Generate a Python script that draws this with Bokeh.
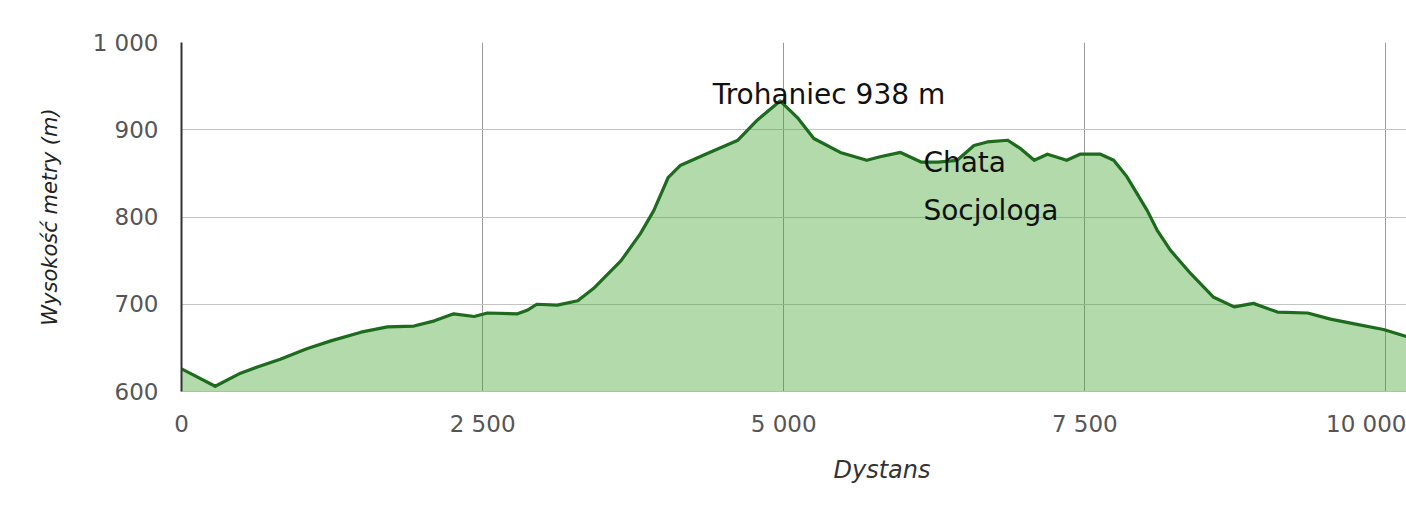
from bokeh.plotting import figure
from bokeh.models import ColumnDataSource, Range1d, Label, FixedTicker, CustomJSTickFormatter, Title
from bokeh.embed import file_html
from bokeh.resources import INLINE

# --- data (distance in m, elevation in m) ---
distance = [0, 280, 490, 630, 820, 1040, 1240, 1490, 1710, 1930,
            2100, 2260, 2430, 2540, 2790, 2870, 2950, 3120, 3290, 3420,
            3650, 3810, 3920, 4040, 4140, 4370, 4620, 4780, 4970, 5000,
            5120, 5250, 5470, 5690, 5800, 5970, 6140, 6280, 6440, 6580,
            6690, 6860, 6970, 7080, 7190, 7350, 7460, 7630, 7740, 7850,
            7920, 8020, 8100, 8210, 8380, 8570, 8740, 8900, 9100, 9350,
            9540, 9760, 9980, 10170]
elevation = [626, 606, 621, 628, 637, 649, 658, 668, 674, 675,
             681, 689, 686, 690, 689, 693, 700, 699, 704, 718,
             750, 781, 807, 845, 859, 873, 888, 911, 933, 929,
             913, 890, 874, 865, 869, 874, 863, 863, 865, 882,
             886, 888, 878, 865, 872, 865, 872, 872, 865, 846,
             830, 807, 785, 762, 735, 708, 697, 701, 691, 690,
             683, 677, 671, 663]
x_ticks = [0, 2500, 5000, 7500, 10000]
y_ticks = [600, 700, 800, 900, 1000]
y_title = "Wysokość metry (m)"
x_title = "Dystans"
peak_label = "Trohaniec 938 m"
hut_label = ["Chata", "Socjologa"]

src = ColumnDataSource(dict(x=distance, y=elevation, base=[600] * len(distance)))

p = figure(width=1406, height=510, output_backend="svg", toolbar_location=None,
           x_range=Range1d(0, 10171), y_range=Range1d(600, 1000),
           min_border_left=181, min_border_right=0, min_border_top=42,
           min_border_bottom=119)
p.outline_line_color = None
p.background_fill_color = "white"
p.border_fill_color = "white"

p.varea(x="x", y1="base", y2="y", source=src, fill_color="#3ea22a", fill_alpha=0.40)
p.line(x="x", y="y", source=src, line_color="#1d6b1d", line_width=3.2, line_join="round")

fmt = CustomJSTickFormatter(code="return tick.toString().replace(/\\B(?=(\\d{3})+(?!\\d))/g, ' ');")
for ax, ticks in ((p.xaxis, x_ticks), (p.yaxis, y_ticks)):
    ax.ticker = FixedTicker(ticks=ticks)
    ax.formatter = fmt
    ax.major_tick_line_color = None
    ax.minor_tick_line_color = None
    ax.major_label_text_font = "DejaVu Sans"
    ax.major_label_text_font_size = "23px"
    ax.major_label_text_color = "#555555"

p.yaxis.axis_line_color = "#333333"
p.yaxis.axis_line_width = 2
p.yaxis.major_label_standoff = 17
p.yaxis.axis_label = y_title
p.yaxis.axis_label_text_font = "DejaVu Sans"
p.yaxis.axis_label_text_font_style = "italic"
p.yaxis.axis_label_text_font_size = "21px"
p.yaxis.axis_label_text_color = "#222222"
p.yaxis.axis_label_standoff = 28

p.xaxis.axis_line_color = "#b8b8b8"
p.xaxis.axis_line_width = 1
p.xaxis.major_label_standoff = 13

p.xgrid.grid_line_color = "#9a9a9a"
p.xgrid.grid_line_width = 1
p.ygrid.grid_line_color = "#c4c4c4"
p.ygrid.grid_line_width = 1

p.add_layout(Title(text=x_title, align="left", offset=652, standoff=28,
                   text_font="DejaVu Sans", text_font_style="italic",
                   text_font_size="24px", text_color="#333333"), "below")

p.add_layout(Label(x=4410, y=940, text=peak_label, text_align="left",
                   text_baseline="alphabetic", text_font="DejaVu Sans",
                   text_font_size="28px", text_color="#111111"))
p.add_layout(Label(x=6160, y=863, text=hut_label[0], text_align="left",
                   text_baseline="alphabetic", text_font="DejaVu Sans",
                   text_font_size="28px", text_color="#111111"))
p.add_layout(Label(x=6160, y=808, text=hut_label[1], text_align="left",
                   text_baseline="alphabetic", text_font="DejaVu Sans",
                   text_font_size="28px", text_color="#111111"))

open("out.html", "w").write(file_html(p, INLINE))
